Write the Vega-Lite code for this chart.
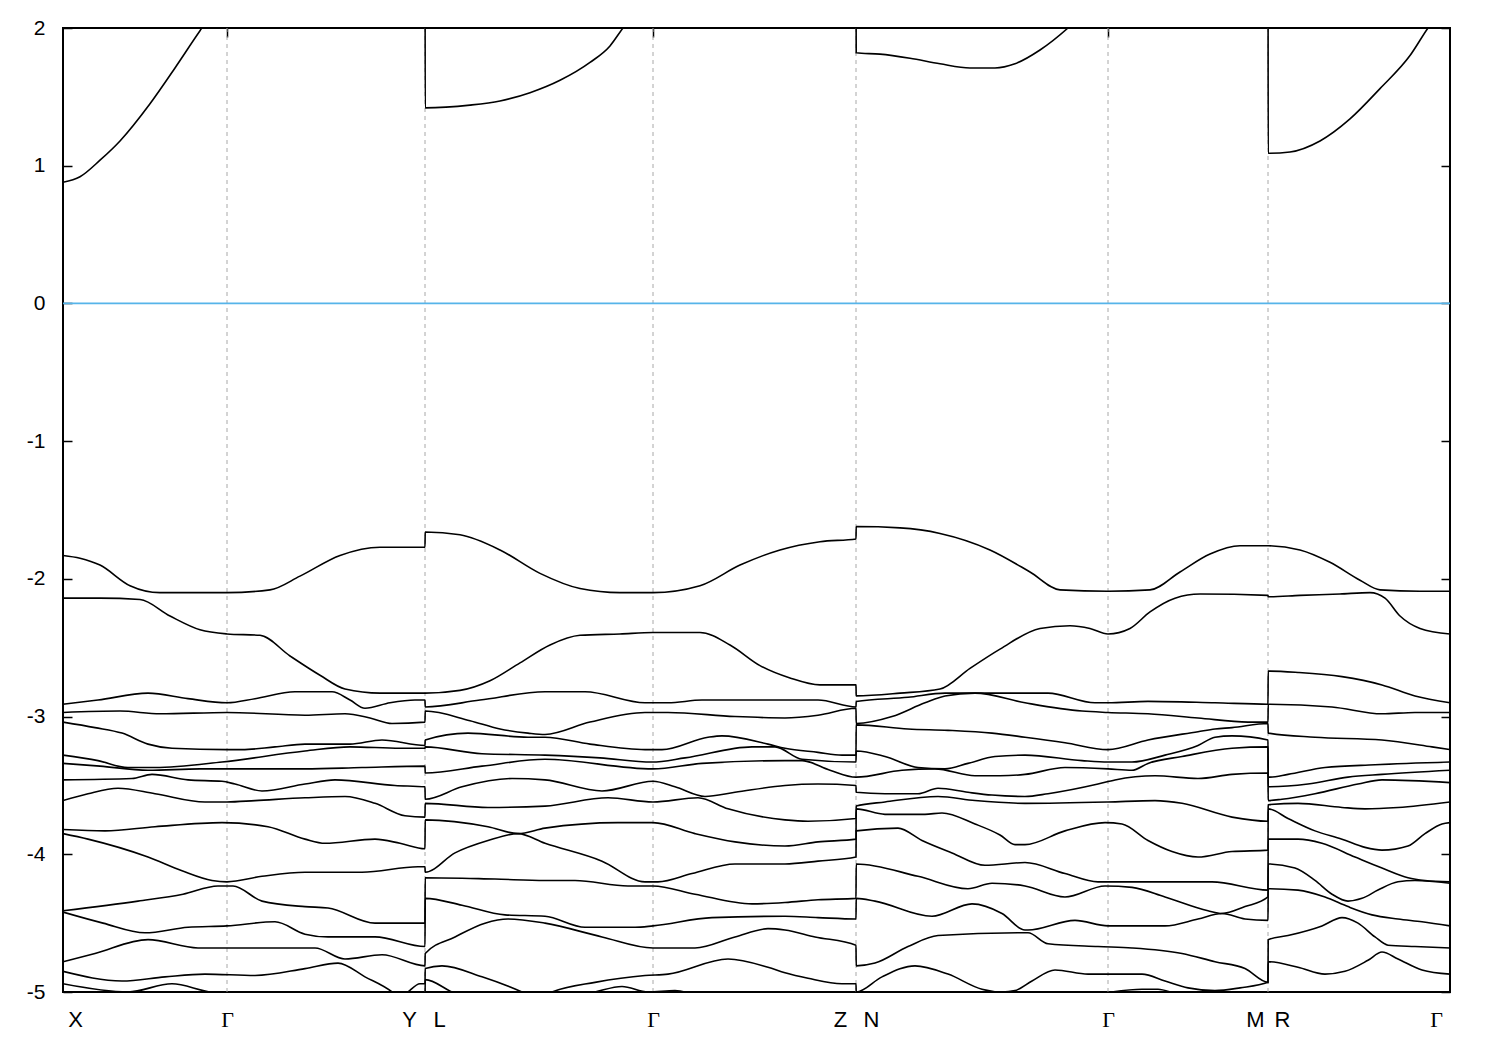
{
"$schema": "https://vega.github.io/schema/vega-lite/v6.json",
"width": 1387, "height": 964,
"autosize": {"type": "none"},
"padding": {"left": 63, "top": 28, "right": 50, "bottom": 58},
"background": "white",
"config": {"view": {"stroke": "black", "strokeWidth": 2}, "axis": {"grid": false, "domain": false, "title": null}},
"datasets": {
"grid": [{"k":164},{"k":362},{"k":590},{"k":793},{"k":1045},{"k":1205}],
"zero": [{"e":0}],
"bands": [
{"b":0,"k":0,"e":0.88},{"b":0,"k":17,"e":0.92},{"b":0,"k":37,"e":1.04},{"b":0,"k":57,"e":1.18},{"b":0,"k":87,"e":1.45},{"b":0,"k":112,"e":1.71},{"b":0,"k":137,"e":1.98},{"b":0,"k":164,"e":2.25},{"b":0,"k":230,"e":2.7},{"b":0,"k":299,"e":3.0},{"b":0,"k":362,"e":3.1},
{"b":0,"k":362.2,"e":1.42},{"b":0,"k":407,"e":1.44},{"b":0,"k":437,"e":1.47},{"b":0,"k":467,"e":1.53},{"b":0,"k":497,"e":1.62},{"b":0,"k":527,"e":1.75},{"b":0,"k":547,"e":1.87},{"b":0,"k":560,"e":2.0},{"b":0,"k":590,"e":2.25},{"b":0,"k":700,"e":2.6},{"b":0,"k":793,"e":2.4},
{"b":0,"k":793.2,"e":1.82},{"b":0,"k":817,"e":1.81},{"b":0,"k":847,"e":1.78},{"b":0,"k":877,"e":1.74},{"b":0,"k":907,"e":1.71},{"b":0,"k":932,"e":1.71},{"b":0,"k":952,"e":1.74},{"b":0,"k":977,"e":1.84},{"b":0,"k":1005,"e":2.0},{"b":0,"k":1045,"e":2.3},{"b":0,"k":1205,"e":2.8},
{"b":0,"k":1205.2,"e":1.09},{"b":0,"k":1227,"e":1.10},{"b":0,"k":1257,"e":1.18},{"b":0,"k":1287,"e":1.34},{"b":0,"k":1317,"e":1.56},{"b":0,"k":1347,"e":1.80},{"b":0,"k":1365,"e":2.0},{"b":0,"k":1387,"e":2.2},

{"b":1,"k":0,"e":-1.83},{"b":1,"k":17,"e":-1.85},{"b":1,"k":37,"e":-1.90},{"b":1,"k":67,"e":-2.05},{"b":1,"k":97,"e":-2.10},{"b":1,"k":164,"e":-2.10},{"b":1,"k":207,"e":-2.08},{"b":1,"k":237,"e":-1.98},{"b":1,"k":277,"e":-1.83},{"b":1,"k":317,"e":-1.77},{"b":1,"k":362,"e":-1.77},
{"b":1,"k":362.2,"e":-1.66},{"b":1,"k":397,"e":-1.68},{"b":1,"k":437,"e":-1.79},{"b":1,"k":477,"e":-1.96},{"b":1,"k":517,"e":-2.07},{"b":1,"k":557,"e":-2.10},{"b":1,"k":590,"e":-2.10},{"b":1,"k":637,"e":-2.05},{"b":1,"k":677,"e":-1.90},{"b":1,"k":717,"e":-1.79},{"b":1,"k":757,"e":-1.73},{"b":1,"k":793,"e":-1.71},
{"b":1,"k":793.2,"e":-1.62},{"b":1,"k":837,"e":-1.63},{"b":1,"k":877,"e":-1.67},{"b":1,"k":927,"e":-1.79},{"b":1,"k":967,"e":-1.95},{"b":1,"k":997,"e":-2.08},{"b":1,"k":1045,"e":-2.09},{"b":1,"k":1087,"e":-2.08},{"b":1,"k":1117,"e":-1.95},{"b":1,"k":1147,"e":-1.82},{"b":1,"k":1177,"e":-1.76},{"b":1,"k":1205,"e":-1.76},
{"b":1,"k":1205.2,"e":-1.76},{"b":1,"k":1237,"e":-1.79},{"b":1,"k":1267,"e":-1.88},{"b":1,"k":1297,"e":-2.01},{"b":1,"k":1317,"e":-2.08},{"b":1,"k":1357,"e":-2.09},{"b":1,"k":1387,"e":-2.09},

{"b":2,"k":0,"e":-2.14},{"b":2,"k":37,"e":-2.14},{"b":2,"k":77,"e":-2.15},{"b":2,"k":107,"e":-2.27},{"b":2,"k":137,"e":-2.37},{"b":2,"k":164,"e":-2.40},{"b":2,"k":197,"e":-2.41},{"b":2,"k":227,"e":-2.56},{"b":2,"k":257,"e":-2.70},{"b":2,"k":282,"e":-2.80},{"b":2,"k":317,"e":-2.83},{"b":2,"k":362,"e":-2.83},
{"b":2,"k":362.2,"e":-2.83},{"b":2,"k":397,"e":-2.81},{"b":2,"k":427,"e":-2.74},{"b":2,"k":457,"e":-2.61},{"b":2,"k":487,"e":-2.48},{"b":2,"k":517,"e":-2.41},{"b":2,"k":557,"e":-2.40},{"b":2,"k":590,"e":-2.39},{"b":2,"k":637,"e":-2.39},{"b":2,"k":667,"e":-2.48},{"b":2,"k":697,"e":-2.63},{"b":2,"k":727,"e":-2.72},{"b":2,"k":757,"e":-2.77},{"b":2,"k":793,"e":-2.77},
{"b":2,"k":793.2,"e":-2.85},{"b":2,"k":837,"e":-2.83},{"b":2,"k":877,"e":-2.80},{"b":2,"k":907,"e":-2.65},{"b":2,"k":937,"e":-2.51},{"b":2,"k":977,"e":-2.36},{"b":2,"k":1007,"e":-2.34},{"b":2,"k":1027,"e":-2.36},{"b":2,"k":1045,"e":-2.40},{"b":2,"k":1067,"e":-2.36},{"b":2,"k":1087,"e":-2.24},{"b":2,"k":1112,"e":-2.14},{"b":2,"k":1137,"e":-2.11},{"b":2,"k":1205,"e":-2.12},
{"b":2,"k":1205.2,"e":-2.13},{"b":2,"k":1237,"e":-2.12},{"b":2,"k":1277,"e":-2.11},{"b":2,"k":1307,"e":-2.10},{"b":2,"k":1322,"e":-2.14},{"b":2,"k":1337,"e":-2.27},{"b":2,"k":1357,"e":-2.36},{"b":2,"k":1387,"e":-2.40},

{"b":3,"k":0,"e":-2.91},{"b":3,"k":35,"e":-2.88},{"b":3,"k":85,"e":-2.83},{"b":3,"k":125,"e":-2.87},{"b":3,"k":164,"e":-2.90},{"b":3,"k":192,"e":-2.87},{"b":3,"k":232,"e":-2.82},{"b":3,"k":269,"e":-2.82},{"b":3,"k":287,"e":-2.88},{"b":3,"k":302,"e":-2.94},{"b":3,"k":327,"e":-2.90},{"b":3,"k":352,"e":-2.88},{"b":3,"k":362,"e":-2.88},
{"b":3,"k":362.2,"e":-2.93},{"b":3,"k":417,"e":-2.88},{"b":3,"k":482,"e":-2.82},{"b":3,"k":522,"e":-2.82},{"b":3,"k":582,"e":-2.90},{"b":3,"k":605,"e":-2.90},{"b":3,"k":639,"e":-2.88},{"b":3,"k":712,"e":-2.88},{"b":3,"k":755,"e":-2.88},{"b":3,"k":793,"e":-2.93},
{"b":3,"k":793.2,"e":-2.89},{"b":3,"k":845,"e":-2.86},{"b":3,"k":882,"e":-2.83},{"b":3,"k":912,"e":-2.83},{"b":3,"k":962,"e":-2.83},{"b":3,"k":985,"e":-2.83},{"b":3,"k":1032,"e":-2.90},{"b":3,"k":1045,"e":-2.90},{"b":3,"k":1085,"e":-2.89},{"b":3,"k":1152,"e":-2.90},{"b":3,"k":1205,"e":-2.91},
{"b":3,"k":1205.2,"e":-2.67},{"b":3,"k":1235,"e":-2.68},{"b":3,"k":1279,"e":-2.71},{"b":3,"k":1319,"e":-2.77},{"b":3,"k":1352,"e":-2.85},{"b":3,"k":1387,"e":-2.90},

{"b":4,"k":0,"e":-2.97},{"b":4,"k":57,"e":-2.96},{"b":4,"k":97,"e":-2.98},{"b":4,"k":164,"e":-2.97},{"b":4,"k":242,"e":-2.99},{"b":4,"k":282,"e":-2.98},{"b":4,"k":307,"e":-3.01},{"b":4,"k":329,"e":-3.05},{"b":4,"k":362,"e":-3.04},
{"b":4,"k":362.2,"e":-2.96},{"b":4,"k":407,"e":-3.03},{"b":4,"k":437,"e":-3.09},{"b":4,"k":465,"e":-3.12},{"b":4,"k":482,"e":-3.13},{"b":4,"k":527,"e":-3.04},{"b":4,"k":582,"e":-2.97},{"b":4,"k":605,"e":-2.97},{"b":4,"k":672,"e":-3.00},{"b":4,"k":722,"e":-3.01},{"b":4,"k":755,"e":-2.99},{"b":4,"k":793,"e":-2.94},
{"b":4,"k":793.2,"e":-3.05},{"b":4,"k":829,"e":-3.00},{"b":4,"k":862,"e":-2.90},{"b":4,"k":882,"e":-2.85},{"b":4,"k":912,"e":-2.83},{"b":4,"k":962,"e":-2.90},{"b":4,"k":1019,"e":-2.96},{"b":4,"k":1045,"e":-2.97},{"b":4,"k":1085,"e":-2.98},{"b":4,"k":1135,"e":-3.01},{"b":4,"k":1185,"e":-3.04},{"b":4,"k":1205,"e":-3.04},
{"b":4,"k":1205.2,"e":-2.91},{"b":4,"k":1269,"e":-2.93},{"b":4,"k":1319,"e":-2.98},{"b":4,"k":1352,"e":-2.97},{"b":4,"k":1387,"e":-2.97},

{"b":5,"k":0,"e":-3.04},{"b":5,"k":32,"e":-3.08},{"b":5,"k":59,"e":-3.12},{"b":5,"k":85,"e":-3.20},{"b":5,"k":109,"e":-3.23},{"b":5,"k":164,"e":-3.24},{"b":5,"k":179,"e":-3.24},{"b":5,"k":212,"e":-3.22},{"b":5,"k":242,"e":-3.20},{"b":5,"k":287,"e":-3.20},{"b":5,"k":319,"e":-3.17},{"b":5,"k":362,"e":-3.21},
{"b":5,"k":362.2,"e":-3.17},{"b":5,"k":405,"e":-3.12},{"b":5,"k":465,"e":-3.15},{"b":5,"k":482,"e":-3.15},{"b":5,"k":527,"e":-3.20},{"b":5,"k":582,"e":-3.24},{"b":5,"k":599,"e":-3.24},{"b":5,"k":645,"e":-3.15},{"b":5,"k":659,"e":-3.14},{"b":5,"k":705,"e":-3.20},{"b":5,"k":722,"e":-3.23},{"b":5,"k":755,"e":-3.26},{"b":5,"k":779,"e":-3.28},{"b":5,"k":793,"e":-3.28},
{"b":5,"k":793.2,"e":-3.06},{"b":5,"k":845,"e":-3.09},{"b":5,"k":885,"e":-3.10},{"b":5,"k":929,"e":-3.12},{"b":5,"k":962,"e":-3.15},{"b":5,"k":1002,"e":-3.19},{"b":5,"k":1045,"e":-3.24},{"b":5,"k":1085,"e":-3.17},{"b":5,"k":1135,"e":-3.11},{"b":5,"k":1152,"e":-3.09},{"b":5,"k":1169,"e":-3.08},{"b":5,"k":1205,"e":-3.05},
{"b":5,"k":1205.2,"e":-3.12},{"b":5,"k":1252,"e":-3.15},{"b":5,"k":1319,"e":-3.17},{"b":5,"k":1369,"e":-3.22},{"b":5,"k":1387,"e":-3.24},

{"b":6,"k":0,"e":-3.28},{"b":6,"k":35,"e":-3.32},{"b":6,"k":65,"e":-3.37},{"b":6,"k":92,"e":-3.37},{"b":6,"k":159,"e":-3.33},{"b":6,"k":242,"e":-3.25},{"b":6,"k":287,"e":-3.22},{"b":6,"k":337,"e":-3.23},{"b":6,"k":362,"e":-3.23},
{"b":6,"k":362.2,"e":-3.22},{"b":6,"k":419,"e":-3.27},{"b":6,"k":482,"e":-3.28},{"b":6,"k":537,"e":-3.30},{"b":6,"k":589,"e":-3.33},{"b":6,"k":622,"e":-3.30},{"b":6,"k":689,"e":-3.22},{"b":6,"k":712,"e":-3.22},{"b":6,"k":739,"e":-3.31},{"b":6,"k":793,"e":-3.33},
{"b":6,"k":793.2,"e":-3.25},{"b":6,"k":822,"e":-3.29},{"b":6,"k":855,"e":-3.37},{"b":6,"k":882,"e":-3.38},{"b":6,"k":905,"e":-3.34},{"b":6,"k":932,"e":-3.29},{"b":6,"k":962,"e":-3.28},{"b":6,"k":1019,"e":-3.32},{"b":6,"k":1045,"e":-3.33},{"b":6,"k":1069,"e":-3.33},{"b":6,"k":1102,"e":-3.28},{"b":6,"k":1135,"e":-3.21},{"b":6,"k":1152,"e":-3.15},{"b":6,"k":1169,"e":-3.14},{"b":6,"k":1205,"e":-3.17},
{"b":6,"k":1205.2,"e":-3.44},{"b":6,"k":1225,"e":-3.42},{"b":6,"k":1262,"e":-3.37},{"b":6,"k":1312,"e":-3.35},{"b":6,"k":1387,"e":-3.33},

{"b":7,"k":0,"e":-3.34},{"b":7,"k":37,"e":-3.36},{"b":7,"k":85,"e":-3.39},{"b":7,"k":137,"e":-3.38},{"b":7,"k":164,"e":-3.38},{"b":7,"k":242,"e":-3.38},{"b":7,"k":299,"e":-3.37},{"b":7,"k":362,"e":-3.36},
{"b":7,"k":362.2,"e":-3.41},{"b":7,"k":419,"e":-3.36},{"b":7,"k":482,"e":-3.31},{"b":7,"k":590,"e":-3.38},{"b":7,"k":639,"e":-3.34},{"b":7,"k":722,"e":-3.32},{"b":7,"k":739,"e":-3.32},{"b":7,"k":767,"e":-3.39},{"b":7,"k":793,"e":-3.44},
{"b":7,"k":793.2,"e":-3.44},{"b":7,"k":839,"e":-3.39},{"b":7,"k":872,"e":-3.38},{"b":7,"k":912,"e":-3.43},{"b":7,"k":937,"e":-3.43},{"b":7,"k":962,"e":-3.42},{"b":7,"k":1002,"e":-3.37},{"b":7,"k":1045,"e":-3.38},{"b":7,"k":1069,"e":-3.39},{"b":7,"k":1085,"e":-3.34},{"b":7,"k":1119,"e":-3.29},{"b":7,"k":1169,"e":-3.23},{"b":7,"k":1205,"e":-3.22},
{"b":7,"k":1205.2,"e":-3.51},{"b":7,"k":1245,"e":-3.49},{"b":7,"k":1285,"e":-3.44},{"b":7,"k":1319,"e":-3.42},{"b":7,"k":1387,"e":-3.39},

{"b":8,"k":0,"e":-3.46},{"b":8,"k":69,"e":-3.45},{"b":8,"k":89,"e":-3.42},{"b":8,"k":125,"e":-3.46},{"b":8,"k":159,"e":-3.47},{"b":8,"k":172,"e":-3.49},{"b":8,"k":199,"e":-3.54},{"b":8,"k":242,"e":-3.49},{"b":8,"k":272,"e":-3.46},{"b":8,"k":332,"e":-3.50},{"b":8,"k":362,"e":-3.51},
{"b":8,"k":362.2,"e":-3.60},{"b":8,"k":399,"e":-3.51},{"b":8,"k":449,"e":-3.45},{"b":8,"k":482,"e":-3.46},{"b":8,"k":539,"e":-3.54},{"b":8,"k":590,"e":-3.47},{"b":8,"k":612,"e":-3.51},{"b":8,"k":642,"e":-3.58},{"b":8,"k":672,"e":-3.55},{"b":8,"k":722,"e":-3.50},{"b":8,"k":755,"e":-3.49},{"b":8,"k":793,"e":-3.50},
{"b":8,"k":793.2,"e":-3.55},{"b":8,"k":822,"e":-3.56},{"b":8,"k":855,"e":-3.56},{"b":8,"k":875,"e":-3.52},{"b":8,"k":905,"e":-3.55},{"b":8,"k":929,"e":-3.57},{"b":8,"k":962,"e":-3.58},{"b":8,"k":985,"e":-3.56},{"b":8,"k":1035,"e":-3.49},{"b":8,"k":1052,"e":-3.46},{"b":8,"k":1092,"e":-3.43},{"b":8,"k":1135,"e":-3.45},{"b":8,"k":1169,"e":-3.42},{"b":8,"k":1205,"e":-3.41},
{"b":8,"k":1205.2,"e":-3.61},{"b":8,"k":1219,"e":-3.60},{"b":8,"k":1252,"e":-3.56},{"b":8,"k":1295,"e":-3.49},{"b":8,"k":1319,"e":-3.46},{"b":8,"k":1387,"e":-3.48},

{"b":9,"k":0,"e":-3.61},{"b":9,"k":25,"e":-3.56},{"b":9,"k":55,"e":-3.52},{"b":9,"k":92,"e":-3.56},{"b":9,"k":142,"e":-3.62},{"b":9,"k":164,"e":-3.62},{"b":9,"k":192,"e":-3.61},{"b":9,"k":242,"e":-3.59},{"b":9,"k":282,"e":-3.58},{"b":9,"k":312,"e":-3.63},{"b":9,"k":342,"e":-3.72},{"b":9,"k":362,"e":-3.73},
{"b":9,"k":362.2,"e":-3.63},{"b":9,"k":425,"e":-3.66},{"b":9,"k":482,"e":-3.65},{"b":9,"k":545,"e":-3.59},{"b":9,"k":590,"e":-3.62},{"b":9,"k":635,"e":-3.59},{"b":9,"k":665,"e":-3.67},{"b":9,"k":722,"e":-3.75},{"b":9,"k":745,"e":-3.76},{"b":9,"k":793,"e":-3.74},
{"b":9,"k":793.2,"e":-3.65},{"b":9,"k":822,"e":-3.62},{"b":9,"k":875,"e":-3.58},{"b":9,"k":912,"e":-3.61},{"b":9,"k":962,"e":-3.63},{"b":9,"k":1045,"e":-3.62},{"b":9,"k":1092,"e":-3.61},{"b":9,"k":1119,"e":-3.63},{"b":9,"k":1169,"e":-3.73},{"b":9,"k":1205,"e":-3.76},
{"b":9,"k":1205.2,"e":-3.64},{"b":9,"k":1235,"e":-3.63},{"b":9,"k":1279,"e":-3.66},{"b":9,"k":1302,"e":-3.67},{"b":9,"k":1335,"e":-3.66},{"b":9,"k":1387,"e":-3.62},

{"b":10,"k":0,"e":-3.82},{"b":10,"k":42,"e":-3.83},{"b":10,"k":92,"e":-3.80},{"b":10,"k":159,"e":-3.77},{"b":10,"k":205,"e":-3.80},{"b":10,"k":242,"e":-3.89},{"b":10,"k":262,"e":-3.92},{"b":10,"k":312,"e":-3.89},{"b":10,"k":337,"e":-3.92},{"b":10,"k":362,"e":-3.96},
{"b":10,"k":362.2,"e":-3.75},{"b":10,"k":425,"e":-3.80},{"b":10,"k":455,"e":-3.85},{"b":10,"k":482,"e":-3.81},{"b":10,"k":555,"e":-3.77},{"b":10,"k":590,"e":-3.77},{"b":10,"k":632,"e":-3.85},{"b":10,"k":672,"e":-3.91},{"b":10,"k":722,"e":-3.94},{"b":10,"k":755,"e":-3.91},{"b":10,"k":793,"e":-3.89},
{"b":10,"k":793.2,"e":-3.67},{"b":10,"k":822,"e":-3.71},{"b":10,"k":862,"e":-3.71},{"b":10,"k":879,"e":-3.70},{"b":10,"k":912,"e":-3.78},{"b":10,"k":937,"e":-3.86},{"b":10,"k":952,"e":-3.93},{"b":10,"k":962,"e":-3.93},{"b":10,"k":1002,"e":-3.83},{"b":10,"k":1042,"e":-3.77},{"b":10,"k":1059,"e":-3.78},{"b":10,"k":1085,"e":-3.90},{"b":10,"k":1109,"e":-3.98},{"b":10,"k":1135,"e":-4.02},{"b":10,"k":1169,"e":-3.98},{"b":10,"k":1205,"e":-3.97},
{"b":10,"k":1205.2,"e":-3.67},{"b":10,"k":1225,"e":-3.74},{"b":10,"k":1252,"e":-3.83},{"b":10,"k":1279,"e":-3.89},{"b":10,"k":1302,"e":-3.95},{"b":10,"k":1319,"e":-3.97},{"b":10,"k":1345,"e":-3.94},{"b":10,"k":1362,"e":-3.85},{"b":10,"k":1379,"e":-3.78},{"b":10,"k":1387,"e":-3.77},

{"b":11,"k":0,"e":-3.85},{"b":11,"k":25,"e":-3.89},{"b":11,"k":85,"e":-4.02},{"b":11,"k":119,"e":-4.12},{"b":11,"k":149,"e":-4.19},{"b":11,"k":164,"e":-4.20},{"b":11,"k":199,"e":-4.16},{"b":11,"k":242,"e":-4.13},{"b":11,"k":299,"e":-4.13},{"b":11,"k":355,"e":-4.09},{"b":11,"k":362,"e":-4.09},
{"b":11,"k":362.2,"e":-4.13},{"b":11,"k":392,"e":-3.99},{"b":11,"k":425,"e":-3.90},{"b":11,"k":455,"e":-3.85},{"b":11,"k":482,"e":-3.92},{"b":11,"k":539,"e":-4.05},{"b":11,"k":582,"e":-4.20},{"b":11,"k":595,"e":-4.20},{"b":11,"k":629,"e":-4.14},{"b":11,"k":672,"e":-4.07},{"b":11,"k":722,"e":-4.07},{"b":11,"k":755,"e":-4.05},{"b":11,"k":793,"e":-4.02},
{"b":11,"k":793.2,"e":-3.83},{"b":11,"k":835,"e":-3.81},{"b":11,"k":859,"e":-3.90},{"b":11,"k":889,"e":-3.99},{"b":11,"k":922,"e":-4.08},{"b":11,"k":962,"e":-4.06},{"b":11,"k":1002,"e":-4.14},{"b":11,"k":1035,"e":-4.20},{"b":11,"k":1085,"e":-4.20},{"b":11,"k":1149,"e":-4.20},{"b":11,"k":1205,"e":-4.26},
{"b":11,"k":1205.2,"e":-3.89},{"b":11,"k":1235,"e":-3.89},{"b":11,"k":1259,"e":-3.92},{"b":11,"k":1292,"e":-4.02},{"b":11,"k":1319,"e":-4.10},{"b":11,"k":1345,"e":-4.17},{"b":11,"k":1362,"e":-4.19},{"b":11,"k":1387,"e":-4.20},

{"b":12,"k":0,"e":-4.41},{"b":12,"k":75,"e":-4.34},{"b":12,"k":120,"e":-4.29},{"b":12,"k":155,"e":-4.23},{"b":12,"k":170,"e":-4.23},{"b":12,"k":199,"e":-4.34},{"b":12,"k":242,"e":-4.38},{"b":12,"k":265,"e":-4.39},{"b":12,"k":312,"e":-4.50},{"b":12,"k":362,"e":-4.50},
{"b":12,"k":362.2,"e":-4.17},{"b":12,"k":432,"e":-4.18},{"b":12,"k":482,"e":-4.19},{"b":12,"k":512,"e":-4.19},{"b":12,"k":565,"e":-4.23},{"b":12,"k":590,"e":-4.23},{"b":12,"k":632,"e":-4.29},{"b":12,"k":689,"e":-4.36},{"b":12,"k":722,"e":-4.35},{"b":12,"k":755,"e":-4.33},{"b":12,"k":793,"e":-4.32},
{"b":12,"k":793.2,"e":-4.07},{"b":12,"k":855,"e":-4.16},{"b":12,"k":905,"e":-4.25},{"b":12,"k":929,"e":-4.21},{"b":12,"k":962,"e":-4.23},{"b":12,"k":1002,"e":-4.31},{"b":12,"k":1042,"e":-4.23},{"b":12,"k":1069,"e":-4.24},{"b":12,"k":1102,"e":-4.31},{"b":12,"k":1145,"e":-4.41},{"b":12,"k":1159,"e":-4.43},{"b":12,"k":1182,"e":-4.38},{"b":12,"k":1205,"e":-4.31},
{"b":12,"k":1205.2,"e":-4.07},{"b":12,"k":1232,"e":-4.10},{"b":12,"k":1252,"e":-4.19},{"b":12,"k":1269,"e":-4.29},{"b":12,"k":1285,"e":-4.34},{"b":12,"k":1299,"e":-4.32},{"b":12,"k":1315,"e":-4.26},{"b":12,"k":1335,"e":-4.20},{"b":12,"k":1352,"e":-4.19},{"b":12,"k":1387,"e":-4.21},

{"b":13,"k":0,"e":-4.42},{"b":13,"k":40,"e":-4.50},{"b":13,"k":82,"e":-4.57},{"b":13,"k":125,"e":-4.53},{"b":13,"k":164,"e":-4.52},{"b":13,"k":212,"e":-4.49},{"b":13,"k":242,"e":-4.58},{"b":13,"k":265,"e":-4.60},{"b":13,"k":312,"e":-4.60},{"b":13,"k":362,"e":-4.67},
{"b":13,"k":362.2,"e":-4.32},{"b":13,"k":399,"e":-4.37},{"b":13,"k":442,"e":-4.44},{"b":13,"k":482,"e":-4.45},{"b":13,"k":522,"e":-4.53},{"b":13,"k":572,"e":-4.53},{"b":13,"k":590,"e":-4.52},{"b":13,"k":649,"e":-4.46},{"b":13,"k":722,"e":-4.45},{"b":13,"k":755,"e":-4.46},{"b":13,"k":793,"e":-4.47},
{"b":13,"k":793.2,"e":-4.32},{"b":13,"k":812,"e":-4.34},{"b":13,"k":869,"e":-4.45},{"b":13,"k":909,"e":-4.36},{"b":13,"k":939,"e":-4.43},{"b":13,"k":962,"e":-4.55},{"b":13,"k":965,"e":-4.55},{"b":13,"k":1012,"e":-4.48},{"b":13,"k":1045,"e":-4.52},{"b":13,"k":1102,"e":-4.52},{"b":13,"k":1135,"e":-4.47},{"b":13,"k":1159,"e":-4.43},{"b":13,"k":1182,"e":-4.47},{"b":13,"k":1205,"e":-4.48},
{"b":13,"k":1205.2,"e":-4.25},{"b":13,"k":1235,"e":-4.26},{"b":13,"k":1262,"e":-4.31},{"b":13,"k":1285,"e":-4.38},{"b":13,"k":1309,"e":-4.44},{"b":13,"k":1335,"e":-4.47},{"b":13,"k":1359,"e":-4.49},{"b":13,"k":1387,"e":-4.52},

{"b":14,"k":0,"e":-4.78},{"b":14,"k":32,"e":-4.72},{"b":14,"k":85,"e":-4.62},{"b":14,"k":135,"e":-4.68},{"b":14,"k":164,"e":-4.68},{"b":14,"k":252,"e":-4.68},{"b":14,"k":282,"e":-4.76},{"b":14,"k":319,"e":-4.73},{"b":14,"k":362,"e":-4.81},
{"b":14,"k":362.2,"e":-4.72},{"b":14,"k":392,"e":-4.60},{"b":14,"k":422,"e":-4.50},{"b":14,"k":445,"e":-4.47},{"b":14,"k":482,"e":-4.50},{"b":14,"k":539,"e":-4.60},{"b":14,"k":590,"e":-4.68},{"b":14,"k":632,"e":-4.68},{"b":14,"k":672,"e":-4.60},{"b":14,"k":705,"e":-4.54},{"b":14,"k":722,"e":-4.55},{"b":14,"k":752,"e":-4.60},{"b":14,"k":793,"e":-4.66},
{"b":14,"k":793.2,"e":-4.81},{"b":14,"k":812,"e":-4.79},{"b":14,"k":845,"e":-4.67},{"b":14,"k":875,"e":-4.59},{"b":14,"k":962,"e":-4.57},{"b":14,"k":965,"e":-4.57},{"b":14,"k":985,"e":-4.65},{"b":14,"k":1035,"e":-4.67},{"b":14,"k":1069,"e":-4.68},{"b":14,"k":1119,"e":-4.72},{"b":14,"k":1152,"e":-4.78},{"b":14,"k":1182,"e":-4.83},{"b":14,"k":1205,"e":-4.93},
{"b":14,"k":1205.2,"e":-4.62},{"b":14,"k":1225,"e":-4.59},{"b":14,"k":1259,"e":-4.52},{"b":14,"k":1279,"e":-4.46},{"b":14,"k":1295,"e":-4.50},{"b":14,"k":1312,"e":-4.60},{"b":14,"k":1325,"e":-4.66},{"b":14,"k":1352,"e":-4.67},{"b":14,"k":1387,"e":-4.68},

{"b":15,"k":0,"e":-4.85},{"b":15,"k":59,"e":-4.92},{"b":15,"k":102,"e":-4.89},{"b":15,"k":142,"e":-4.87},{"b":15,"k":192,"e":-4.88},{"b":15,"k":242,"e":-4.83},{"b":15,"k":275,"e":-4.79},{"b":15,"k":302,"e":-4.89},{"b":15,"k":329,"e":-5.00},{"b":15,"k":337,"e":-5.05},{"b":15,"k":345,"e":-5.00},{"b":15,"k":357,"e":-4.94},{"b":15,"k":362,"e":-4.94},
{"b":15,"k":362.2,"e":-4.83},{"b":15,"k":379,"e":-4.81},{"b":15,"k":419,"e":-4.89},{"b":15,"k":459,"e":-5.00},{"b":15,"k":474,"e":-5.05},{"b":15,"k":489,"e":-5.00},{"b":15,"k":532,"e":-4.93},{"b":15,"k":582,"e":-4.88},{"b":15,"k":605,"e":-4.87},{"b":15,"k":665,"e":-4.76},{"b":15,"k":705,"e":-4.82},{"b":15,"k":722,"e":-4.86},{"b":15,"k":745,"e":-4.90},{"b":15,"k":779,"e":-4.94},{"b":15,"k":793,"e":-4.94},
{"b":15,"k":793.2,"e":-5.00},{"b":15,"k":819,"e":-4.89},{"b":15,"k":852,"e":-4.81},{"b":15,"k":885,"e":-4.87},{"b":15,"k":919,"e":-4.98},{"b":15,"k":939,"e":-5.00},{"b":15,"k":952,"e":-4.99},{"b":15,"k":969,"e":-4.92},{"b":15,"k":992,"e":-4.84},{"b":15,"k":1025,"e":-4.87},{"b":15,"k":1045,"e":-4.87},{"b":15,"k":1079,"e":-4.87},{"b":15,"k":1102,"e":-4.92},{"b":15,"k":1125,"e":-4.97},{"b":15,"k":1152,"e":-4.99},{"b":15,"k":1177,"e":-4.97},{"b":15,"k":1205,"e":-4.93},
{"b":15,"k":1205.2,"e":-4.78},{"b":15,"k":1235,"e":-4.82},{"b":15,"k":1262,"e":-4.87},{"b":15,"k":1282,"e":-4.85},{"b":15,"k":1305,"e":-4.77},{"b":15,"k":1319,"e":-4.71},{"b":15,"k":1335,"e":-4.76},{"b":15,"k":1359,"e":-4.84},{"b":15,"k":1387,"e":-4.87},

{"b":16,"k":0,"e":-4.94},{"b":16,"k":65,"e":-5.00},{"b":16,"k":109,"e":-4.94},{"b":16,"k":149,"e":-5.00},{"b":16,"k":189,"e":-5.01},{"b":16,"k":230,"e":-5.05},{"b":16,"k":300,"e":-5.15},{"b":16,"k":362,"e":-5.12},
{"b":16,"k":362.2,"e":-4.91},{"b":16,"k":389,"e":-5.00},{"b":16,"k":417,"e":-5.08},{"b":16,"k":474,"e":-5.10},{"b":16,"k":532,"e":-5.00},{"b":16,"k":559,"e":-4.96},{"b":16,"k":585,"e":-5.00},{"b":16,"k":612,"e":-4.99},{"b":16,"k":627,"e":-5.01},{"b":16,"k":660,"e":-5.10},{"b":16,"k":793,"e":-5.10},
{"b":16,"k":793.2,"e":-5.10},{"b":16,"k":950,"e":-5.10},{"b":16,"k":1037,"e":-5.01},{"b":16,"k":1079,"e":-4.98},{"b":16,"k":1095,"e":-4.98},{"b":16,"k":1112,"e":-5.01},{"b":16,"k":1150,"e":-5.08},{"b":16,"k":1205,"e":-5.10},
{"b":16,"k":1205.2,"e":-5.10},{"b":16,"k":1387,"e":-5.10}
]},
"layer": [
{"data": {"name": "grid"},
 "mark": {"type": "rule", "color": "#a8a8a8", "strokeDash": [4, 4], "strokeWidth": 1},
 "encoding": {"x": {"field": "k", "type": "quantitative", "scale": {"domain": [0, 1387], "nice": false, "zero": false},
   "axis": {"orient": "top", "values": [164, 590, 1045], "labels": false, "ticks": true, "tickSize": -9, "tickColor": "black", "tickWidth": 1.5, "domain": false, "grid": false, "title": null}}}},
{"data": {"name": "zero"},
 "mark": {"type": "rule", "color": "#56b4e9", "strokeWidth": 1.7},
 "encoding": {"y": {"field": "e", "type": "quantitative", "scale": {"domain": [-5, 2], "nice": false, "zero": false},
   "axis": {"orient": "right", "values": [-5, -4, -3, -2, -1, 0, 1, 2], "labels": false, "ticks": true, "tickSize": -9, "tickColor": "black", "tickWidth": 1.5, "domain": false, "grid": false, "title": null}}}},
{"data": {"name": "bands"},
 "mark": {"type": "line", "color": "black", "strokeWidth": 1.6, "interpolate": "monotone", "clip": true},
 "encoding": {
  "x": {"field": "k", "type": "quantitative", "scale": {"domain": [0, 1387], "nice": false, "zero": false},
   "axis": {"orient": "bottom", "values": [12, 164, 346, 376, 590, 777, 808, 1045, 1192, 1219, 1373],
     "labelExpr": "datum.value == 12 ? 'X' : datum.value == 346 ? 'Y' : datum.value == 376 ? 'L' : datum.value == 777 ? 'Z' : datum.value == 808 ? 'N' : datum.value == 1192 ? 'M' : datum.value == 1219 ? 'R' : 'Γ'",
     "labelFont": {"condition": {"test": "datum.value == 164 || datum.value == 590 || datum.value == 1045 || datum.value == 1373", "value": "Liberation Serif"}, "value": "Liberation Sans"},
     "labelFontSize": 22, "labelColor": "black", "labelPadding": 17, "labelFlush": false, "labelOverlap": false,
     "ticks": false, "domain": false, "grid": false, "title": null}},
  "y": {"field": "e", "type": "quantitative", "scale": {"domain": [-5, 2], "nice": false, "zero": false},
   "axis": {"orient": "left", "values": [-5, -4, -3, -2, -1, 0, 1, 2],
     "labelExpr": "datum.value < 0 ? '-' + (-datum.value) : '' + datum.value",
     "labelFont": "Liberation Sans", "labelFontSize": 21, "labelColor": "black", "labelPadding": 27, "labelFlush": false, "labelOverlap": false,
     "ticks": true, "tickSize": -9, "tickColor": "black", "tickWidth": 1.5, "domain": false, "grid": false, "title": null}},
  "detail": {"field": "b", "type": "nominal"}
 }}
],
"resolve": {"axis": {"x": "independent", "y": "independent"}}
}
